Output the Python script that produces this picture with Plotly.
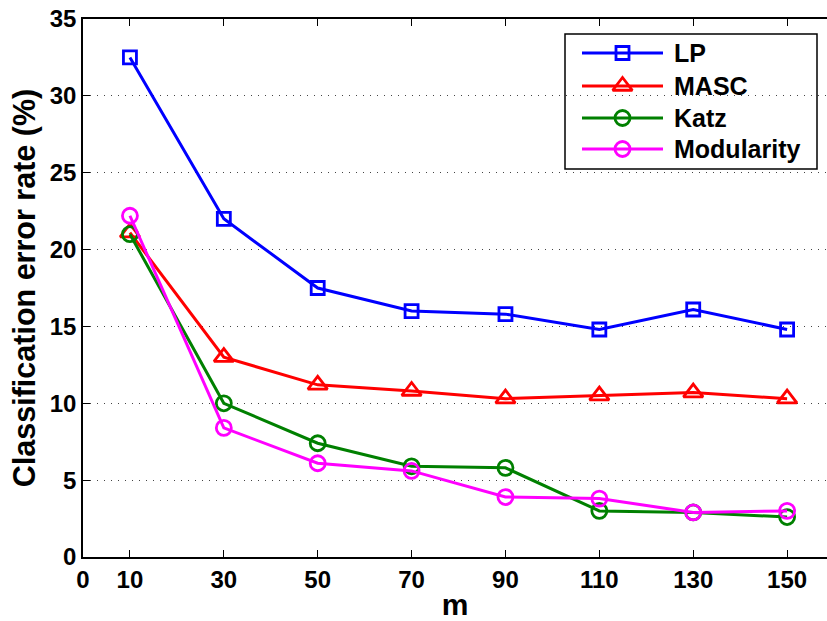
import plotly.graph_objects as go

# Number of labelled samples m
m_values = [10, 30, 50, 70, 90, 110, 130, 150]

# Classification error rate (%) per method
lp_err = [32.5, 22.0, 17.5, 16.0, 15.8, 14.8, 16.1, 14.8]
masc_err = [21.1, 13.0, 11.2, 10.8, 10.3, 10.5, 10.7, 10.3]
katz_err = [21.0, 10.0, 7.4, 5.9, 5.8, 3.0, 2.9, 2.6]
modularity_err = [22.2, 8.4, 6.1, 5.6, 3.9, 3.8, 2.9, 3.0]

x_ticks = [0, 10, 30, 50, 70, 90, 110, 130, 150]
y_ticks = [0, 5, 10, 15, 20, 25, 30, 35]

series = [
    ("LP", lp_err, "#0000ff", "square-open", 13),
    ("MASC", masc_err, "#ff0000", "triangle-up-open", 17),
    ("Katz", katz_err, "#008000", "circle-open", 15),
    ("Modularity", modularity_err, "#ff00ff", "circle-open", 15),
]

FONT = "Liberation Sans, Arial, sans-serif"
W, H = 827, 621
M_L, M_R, M_T, M_B = 83, 0, 19, 64

fig = go.Figure()
for name, vals, color, symbol, size in series:
    fig.add_trace(go.Scatter(
        x=m_values, y=vals, name=name, mode="lines+markers",
        line=dict(color=color, width=3),
        marker=dict(symbol=symbol, size=size, color=color,
                    line=dict(color=color, width=2.8)),
        cliponaxis=False, showlegend=False,
    ))

# Boxed legend drawn on an overlay axis measured in pixels of the plot area
leg_left, leg_right, leg_top, leg_bottom = 565, 817, 34, 169
row_y = [53, 86, 118, 149]
line_x0, line_x1, text_x = 582, 663, 672
for (name, vals, color, symbol, size), ry in zip(series, row_y):
    fig.add_trace(go.Scatter(
        x=[line_x0, (line_x0 + line_x1) / 2, line_x1], y=[ry, ry, ry],
        mode="lines", line=dict(color=color, width=3),
        xaxis="x2", yaxis="y2", showlegend=False, hoverinfo="skip",
    ))
    fig.add_trace(go.Scatter(
        x=[(line_x0 + line_x1) / 2], y=[ry], mode="markers",
        marker=dict(symbol=symbol, size=size, color=color,
                    line=dict(color=color, width=2.8)),
        xaxis="x2", yaxis="y2", showlegend=False, hoverinfo="skip",
        cliponaxis=False,
    ))
    fig.add_annotation(
        x=text_x, y=ry, xref="x2", yref="y2", text=name, showarrow=False,
        xanchor="left", yanchor="middle",
        font=dict(family=FONT, size=25, color="black", weight="bold"),
    )

fig.add_shape(
    type="rect", x0=leg_left, x1=leg_right, y0=leg_top, y1=leg_bottom,
    xref="x2", yref="y2", line=dict(color="black", width=1.5),
    fillcolor="white", layer="below",
)

fig.update_layout(
    width=W, height=H,
    margin=dict(l=M_L, r=M_R, t=M_T, b=M_B),
    paper_bgcolor="white", plot_bgcolor="white",
    font=dict(family=FONT, size=24, color="black"),
    showlegend=False,
    xaxis=dict(
        range=[0, 158.5], tickvals=x_ticks, ticktext=[str(v) for v in x_ticks],
        showgrid=False, zeroline=False,
        showline=True, linecolor="black", linewidth=1.5, mirror="ticks",
        ticks="inside", ticklen=7, tickwidth=1, tickcolor="black",
        tickfont=dict(family=FONT, size=24, weight="bold"),
        title=dict(text="m", font=dict(family=FONT, size=30, weight="bold"), standoff=2),
    ),
    yaxis=dict(
        range=[0, 35], tickvals=y_ticks, ticktext=[str(v) for v in y_ticks],
        showgrid=True, gridcolor="#444444", griddash="1px,6px", gridwidth=1,
        zeroline=False,
        showline=True, linecolor="black", linewidth=1.5, mirror=False,
        ticks="inside", ticklen=7, tickwidth=1, tickcolor="black",
        tickfont=dict(family=FONT, size=24, weight="bold"),
        title=dict(text="Classification error rate (%)",
                   font=dict(family=FONT, size=30.5, weight="bold"), standoff=5),
    ),
    xaxis2=dict(domain=[0, 1], range=[M_L, W - M_R], visible=False,
                overlaying="x", anchor="y2", fixedrange=True),
    yaxis2=dict(domain=[0, 1], range=[H - M_B, M_T], visible=False,
                overlaying="y", anchor="x2", fixedrange=True),
)

fig.write_html("out.html")
